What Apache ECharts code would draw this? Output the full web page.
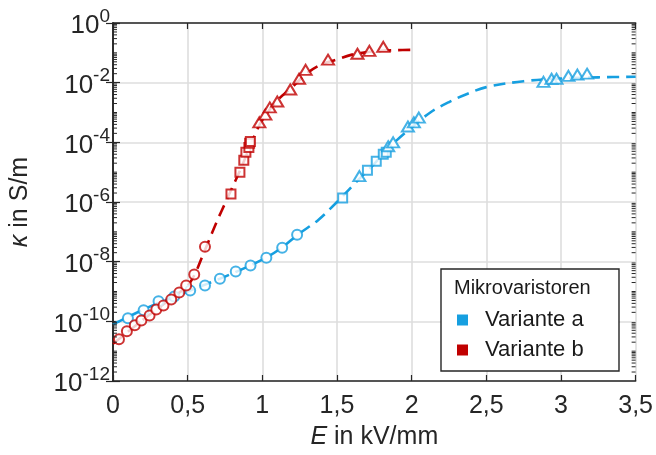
<!DOCTYPE html>
<html><head><meta charset="utf-8">
<script src="https://cdn.jsdelivr.net/npm/echarts@6/dist/echarts.min.js"></script>
<style>html,body{margin:0;padding:0;background:#fff}#c{width:656px;height:455px}</style>
</head><body><div id="c"></div>
<script>
// ---- data (E in kV/mm, kappa in S/m) ----
const aCircles = [[0.10,1.26e-10],[0.205,2.34e-10],[0.305,4.68e-10],[0.41,6.76e-10],[0.517,1.07e-9],[0.616,1.58e-9],[0.716,2.69e-9],[0.822,4.68e-9],[0.921,7.41e-9],[1.027,1.35e-8],[1.133,2.95e-8],[1.233,7.94e-8]];
const aSquares = [[1.538,1.35e-6],[1.704,1.17e-5],[1.763,2.34e-5],[1.81,3.98e-5],[1.83,4.68e-5]];
const aTriangles = [[1.65,7.41e-6],[1.843,7.41e-5],[1.876,1.0e-4],[1.975,3.39e-4],[2.015,4.68e-4],[2.048,6.76e-4],[2.883,1.07e-2],[2.937,1.35e-2],[2.97,1.35e-2],[3.05,1.70e-2],[3.11,1.86e-2],[3.175,2.0e-2]];
const aFit = [[0,7.94e-11],[0.25,3.16e-10],[0.5,1.0e-9],[0.75,3.16e-9],[1.0,1.17e-8],[1.125,2.82e-8],[1.25,8.91e-8],[1.375,2.51e-7],[1.5,1.0e-6],[1.625,4.47e-6],[1.75,1.91e-5],[1.875,8.91e-5],[2.0,3.16e-4],[2.125,1.0e-3],[2.25,2.24e-3],[2.375,4.27e-3],[2.5,7.08e-3],[2.75,1.12e-2],[3.0,1.38e-2],[3.25,1.51e-2],[3.5,1.58e-2]];

const bCircles = [[0.04,2.51e-11],[0.093,4.68e-11],[0.146,7.41e-11],[0.19,1.07e-10],[0.245,1.58e-10],[0.29,2.51e-10],[0.338,3.39e-10],[0.39,5.37e-10],[0.444,9.33e-10],[0.49,1.58e-9],[0.544,3.72e-9],[0.616,3.16e-8]];
const bSquares = [[0.79,1.86e-6],[0.85,1.0e-5],[0.876,2.51e-5],[0.89,4.68e-5],[0.91,6.76e-5],[0.915,9.33e-5],[0.92,1.07e-4]];
const bTriangles = [[0.98,4.68e-4],[1.02,8.51e-4],[1.05,1.48e-3],[1.10,2.34e-3],[1.187,5.89e-3],[1.246,1.35e-2],[1.29,2.69e-2],[1.44,5.89e-2],[1.637,9.33e-2],[1.717,1.17e-1],[1.81,1.58e-1]];
const bFit = [[0,1.78e-11],[0.1,4.47e-11],[0.2,1.12e-10],[0.3,2.69e-10],[0.4,6.31e-10],[0.5,1.58e-9],[0.55,3.98e-9],[0.6,1.58e-8],[0.65,6.31e-8],[0.7,2.51e-7],[0.75,8.91e-7],[0.8,3.16e-6],[0.85,1.12e-5],[0.9,4.47e-5],[0.95,1.78e-4],[1.0,5.62e-4],[1.1,2.51e-3],[1.2,7.08e-3],[1.3,2.09e-2],[1.4,4.17e-2],[1.5,6.03e-2],[1.6,8.71e-2],[1.7,1.05e-1],[1.8,1.17e-1],[1.9,1.23e-1],[2.0,1.26e-1]];

const seriesNames = ['Variante a','Variante b'];
const legendTitle = 'Mikrovaristoren';
const xRange = [0, 3.5];
const yRange = [1e-12, 1];
const minorMult = [1,2,3,4,5,6,7,8,9];
const decades = [-12,-11,-10,-9,-8,-7,-6,-5,-4,-3,-2,-1];

// ---- styling ----
const BLUE = '#169fe0', RED = '#c00000', INK = '#262626', GRID = '#dedede';
const FONT = 'Liberation Sans, Arial, Helvetica, sans-serif';

// log minor ticks (axis decoration)
const minorTicks = [];
decades.forEach(d => {
  minorMult.forEach(m => {
    if (m === 1 && d % 2 === 0) return;
    const v = m*Math.pow(10,d); minorTicks.push([xRange[0], v]); minorTicks.push([xRange[1], v]);
  });
});

function scatter(name, data, symbol, size, color) {
  return { name, type:'scatter', data, symbol, symbolSize:size, z:5,
    itemStyle:{color:'#fff', borderColor:color, borderWidth:2}, silent:true };
}
function fit(name, data, color) {
  return { name, type:'line', data, showSymbol:false, symbol:'none', smooth:0.35, z:3,
    itemStyle:{color}, lineStyle:{color, width:2.6, type:[12,7]}, silent:true };
}

const yLabelRich = { b:{fontSize:26, color:INK, fontFamily:FONT, lineHeight:32, verticalAlign:'bottom'},
                     s:{fontSize:19, color:INK, fontFamily:FONT, lineHeight:32, verticalAlign:'top'} };

const chart = echarts.init(document.getElementById('c'), null, {renderer:'canvas'});
chart.setOption({
  animation:false,
  textStyle:{fontFamily:FONT},
  grid:{left:109, top:23, right:19, bottom:72, containLabel:false},
  xAxis:[{
    type:'value', min:xRange[0], max:xRange[1], interval:0.5,
    name:'{i|E} in kV/mm', nameLocation:'middle', nameGap:44,
    nameTextStyle:{fontSize:25, color:INK, fontFamily:FONT, rich:{i:{fontStyle:'italic', fontSize:25, color:INK, fontFamily:FONT}}},
    axisLine:{show:true, lineStyle:{color:INK, width:1.6}},
    axisTick:{show:true, inside:true, length:6, lineStyle:{color:INK, width:1.2}},
    axisLabel:{fontSize:25, color:INK, margin:13, formatter:v => String(v).replace('.',',')},
    splitLine:{show:true, lineStyle:{color:GRID, width:1.6}}
  },{
    type:'value', position:'top', min:xRange[0], max:xRange[1], interval:0.5,
    axisLine:{show:true, lineStyle:{color:INK, width:1.6}},
    axisTick:{show:true, inside:true, length:6, lineStyle:{color:INK, width:1.2}},
    axisLabel:{show:false}, splitLine:{show:false}
  }],
  yAxis:[{
    type:'log', logBase:10, min:yRange[0], max:yRange[1], interval:2,
    name:'{i|κ} in S/m', nameLocation:'middle', nameGap:80,
    nameTextStyle:{fontSize:25, color:INK, fontFamily:FONT, rich:{i:{fontStyle:'italic', fontSize:25, color:INK, fontFamily:FONT}}},
    axisLine:{show:true, lineStyle:{color:INK, width:1.6}},
    axisTick:{show:true, inside:true, length:7, lineStyle:{color:INK, width:1.2}},
    axisLabel:{margin:3, formatter:v => { const e = Math.round(Math.log10(v)); return '{b|10}{s|' + e + '}'; },
      rich:yLabelRich},
    splitLine:{show:true, lineStyle:{color:GRID, width:1.6}}
  },{
    type:'log', logBase:10, position:'right', min:yRange[0], max:yRange[1], interval:2,
    axisLine:{show:true, lineStyle:{color:INK, width:1.6}},
    axisTick:{show:true, inside:true, length:7, lineStyle:{color:INK, width:1.2}},
    axisLabel:{show:false}, splitLine:{show:false}
  }],
  legend:{
    data:[{name:seriesNames[0], itemStyle:{color:BLUE}},{name:seriesNames[1], itemStyle:{color:RED}}],
    orient:'vertical', left:452, top:304, icon:'rect', itemWidth:11, itemHeight:11, itemGap:8,
    selectedMode:false, z:20,
    textStyle:{fontSize:22, color:'#1a1a1a', fontFamily:FONT, padding:[0,0,0,12]}
  },
  graphic:[
    {type:'rect', z:15, shape:{x:441, y:269, width:178, height:102}, style:{fill:'#fff', stroke:INK, lineWidth:1.4}},
    {type:'text', z:16, x:454, y:288, style:{text:legendTitle, fontSize:20, fill:'#1a1a1a', fontFamily:FONT, verticalAlign:'middle'}}
  ],
  series:[
    fit(seriesNames[0], aFit, BLUE),
    fit(seriesNames[1], bFit, RED),
    scatter(seriesNames[0], aCircles, 'circle', 10, BLUE),
    scatter(seriesNames[0], aSquares, 'rect', 9, BLUE),
    scatter(seriesNames[0], aTriangles, 'triangle', [12,10], BLUE),
    scatter(seriesNames[1], bCircles, 'circle', 10, RED),
    scatter(seriesNames[1], bSquares, 'rect', 9, RED),
    scatter(seriesNames[1], bTriangles, 'triangle', [12,10], RED),
    { name:'minor', type:'custom', data:minorTicks, silent:true, clip:false, z:6,
      renderItem:(params, api) => {
        const x = api.value(0), y = api.value(1);
        const p = api.coord([x, y]);
        const dir = x < 1 ? 1 : -1;
        return {type:'line', shape:{x1:p[0], y1:p[1], x2:p[0]+dir*4, y2:p[1]}, style:{stroke:INK, lineWidth:1}};
      } }
  ]
});
</script>
</body></html>
